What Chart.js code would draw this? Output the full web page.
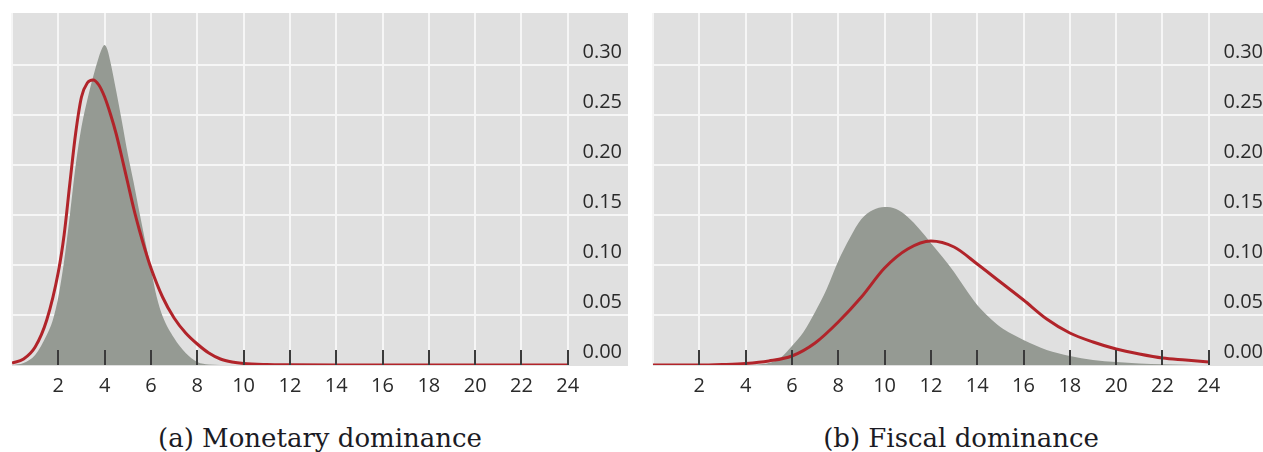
<!DOCTYPE html>
<html>
<head>
<meta charset="utf-8">
<script src="https://cdn.jsdelivr.net/npm/chart.js@4.4.1/dist/chart.umd.min.js"></script>
<style>
  html, body { margin: 0; padding: 0; background: #ffffff; overflow: hidden; }
  #wrap { position: relative; width: 1263px; height: 452px; overflow: hidden; background: #fff; }
  .panel { position: absolute; top: 0; width: 628px; height: 400px; }
  .title { position: absolute; top: 423px; width: 628px; text-align: center;
           font-family: "DejaVu Serif", "Liberation Serif", serif; font-size: 26px; line-height: 30px;
           color: #1b1b24; white-space: nowrap; }
</style>
</head>
<body>
<div id="wrap">
  <div class="panel" style="left:0px;"><canvas id="c1" width="628" height="400"></canvas></div>
  <div class="panel" style="left:641px;"><canvas id="c2" width="628" height="400"></canvas></div>
  <div class="title" style="left:6px;">(a) Monetary dominance</div>
  <div class="title" style="left:647px;">(b) Fiscal dominance</div>
</div>
<script>
// ---------- data ----------
const xTickLabels = [2, 4, 6, 8, 10, 12, 14, 16, 18, 20, 22, 24];
const yTickLabels = ["0.00", "0.05", "0.10", "0.15", "0.20", "0.25", "0.30"];

// (a) Monetary dominance
const monetaryGrayX = [0, 0.5, 1, 1.5, 1.75, 2, 2.25, 2.5, 2.75, 3, 3.25, 3.5, 3.75, 3.875, 4, 4.125, 4.25, 4.5, 4.75, 5, 5.25, 5.5, 5.75, 6, 6.25, 6.5, 7, 7.5, 8, 8.5, 9];
const monetaryGrayY = [0, 0.002, 0.01, 0.03, 0.044, 0.068, 0.104, 0.15, 0.2, 0.238, 0.265, 0.288, 0.308, 0.316, 0.32, 0.315, 0.303, 0.274, 0.243, 0.211, 0.183, 0.153, 0.124, 0.096, 0.068, 0.049, 0.027, 0.012, 0.003, 0.0005, 0];
const monetaryRedX = [0, 0.5, 1, 1.5, 2, 2.25, 2.5, 2.75, 3, 3.25, 3.5, 3.75, 4, 4.25, 4.5, 4.75, 5, 5.25, 5.5, 5.75, 6, 6.5, 7, 7.5, 8, 8.5, 9, 9.5, 10, 11, 12, 14, 16, 18, 20, 22, 24];
const monetaryRedY = [0.002, 0.006, 0.018, 0.045, 0.093, 0.13, 0.182, 0.232, 0.268, 0.282, 0.285, 0.28, 0.268, 0.251, 0.231, 0.207, 0.182, 0.157, 0.135, 0.115, 0.097, 0.068, 0.047, 0.032, 0.021, 0.012, 0.006, 0.003, 0.0015, 0.0005, 0.0002, 0, 0, 0, 0, 0, 0];

// (b) Fiscal dominance
const fiscalGrayX = [0, 4, 4.5, 5, 5.5, 6, 6.5, 7, 7.5, 8, 8.5, 9, 9.5, 10, 10.5, 11, 11.5, 12, 12.5, 13, 13.5, 14, 14.5, 15, 15.5, 16, 17, 18, 19, 20, 21, 22, 23, 24];
const fiscalGrayY = [0, 0, 0.0005, 0.002, 0.007, 0.019, 0.033, 0.053, 0.076, 0.104, 0.127, 0.146, 0.155, 0.158, 0.156, 0.148, 0.136, 0.122, 0.108, 0.093, 0.076, 0.06, 0.048, 0.038, 0.031, 0.025, 0.015, 0.009, 0.005, 0.003, 0.0015, 0.0007, 0.0003, 0];
const fiscalRedX = [0, 1, 2, 3, 4, 5, 6, 7, 8, 9, 10, 11, 12, 13, 14, 15, 16, 17, 18, 19, 20, 21, 22, 23, 24];
const fiscalRedY = [0, 0, 0, 0.0005, 0.0015, 0.004, 0.009, 0.022, 0.043, 0.068, 0.097, 0.116, 0.124, 0.118, 0.101, 0.083, 0.065, 0.046, 0.032, 0.023, 0.016, 0.011, 0.007, 0.005, 0.003];

// ---------- drawing ----------
const GRAY_FILL = '#959a93';
const RED = '#b1242a';
const PANEL_BG = '#e0e0e0';
const GRID = '#f6f6f6';

function pts(xs, ys) { return xs.map((x, i) => ({ x: x, y: ys[i] })); }

const bgPlugin = {
  id: 'panelBg',
  beforeDraw(chart) {
    const a = chart.chartArea, ctx = chart.ctx;
    ctx.save();
    ctx.fillStyle = PANEL_BG;
    ctx.fillRect(a.left, a.top, a.right - a.left, a.bottom - a.top + 1);
    ctx.restore();
  }
};

const tickMarkPlugin = {
  id: 'innerTicks',
  afterDatasetsDraw(chart) {
    const xs = chart.scales.x, a = chart.chartArea, ctx = chart.ctx;
    ctx.save();
    ctx.strokeStyle = '#3b3b3b';
    ctx.lineWidth = 2;
    xTickLabels.forEach(v => {
      const px = Math.round(xs.getPixelForValue(v));
      ctx.beginPath();
      ctx.moveTo(px, a.bottom);
      ctx.lineTo(px, a.bottom - 15);
      ctx.stroke();
    });
    ctx.restore();
  }
};

function makeChart(id, grayX, grayY, redX, redY) {
  return new Chart(document.getElementById(id), {
    type: 'line',
    data: {
      datasets: [
        { data: pts(redX, redY), borderColor: RED, borderWidth: 3, fill: false,
          pointRadius: 0, cubicInterpolationMode: 'monotone' },
        { data: pts(grayX, grayY), borderColor: GRAY_FILL, borderWidth: 0, backgroundColor: GRAY_FILL,
          fill: 'origin', pointRadius: 0, cubicInterpolationMode: 'monotone' }
      ]
    },
    options: {
      responsive: false,
      animation: false,
      devicePixelRatio: 1,
      layout: { padding: { top: 13, left: 12, right: 0, bottom: 0 } },
      plugins: { legend: { display: false }, tooltip: { enabled: false }, title: { display: false } },
      scales: {
        x: {
          type: 'linear', min: 0, max: 26.6,
          afterFit(s) { s.height = 35; s.paddingLeft = 0; s.paddingRight = 0; },
          border: { display: false },
          grid: {
            drawTicks: false, lineWidth: 2,
            color: c => (c.tick && c.tick.value <= 24.001) ? GRID : 'rgba(0,0,0,0)'
          },
          ticks: {
            stepSize: 2, includeBounds: false, autoSkip: false, maxRotation: 0, padding: 9,
            color: '#2a2a2a', font: { family: '"Open Sans", "Noto Sans", sans-serif', size: 20 },
            callback: v => (xTickLabels.indexOf(Math.round(v)) >= 0 && Math.abs(v - Math.round(v)) < 1e-6) ? String(Math.round(v)) : ''
          }
        },
        y: {
          type: 'linear', position: 'right', min: 0, max: 0.352,
          afterFit(s) { s.width = 0; s.paddingTop = 0; s.paddingBottom = 0; },
          border: { display: false },
          grid: {
            drawTicks: false, lineWidth: 2,
            color: c => {
              if (!c.tick) return GRID;
              const v = Math.round(c.tick.value * 100);
              return (v > 0 && v <= 30) ? GRID : 'rgba(0,0,0,0)';
            }
          },
          ticks: {
            stepSize: 0.05, includeBounds: false, mirror: true, padding: -6, labelOffset: -13,
            color: '#2a2a2a', font: { family: '"Open Sans", "Noto Sans", sans-serif', size: 20 },
            callback: v => {
              const k = Math.round(v * 20);
              return (k >= 0 && k < yTickLabels.length && Math.abs(v * 20 - k) < 1e-6) ? yTickLabels[k] : '';
            }
          }
        }
      }
    },
    plugins: [bgPlugin, tickMarkPlugin]
  });
}

makeChart('c1', monetaryGrayX, monetaryGrayY, monetaryRedX, monetaryRedY);
makeChart('c2', fiscalGrayX, fiscalGrayY, fiscalRedX, fiscalRedY);
</script>
</body>
</html>
